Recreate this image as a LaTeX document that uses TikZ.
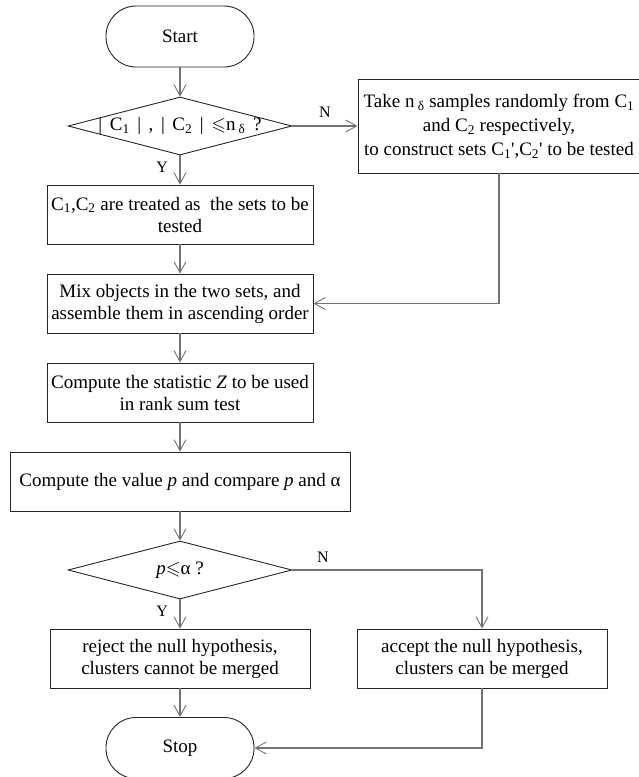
\documentclass[tikz,border=0pt]{standalone}
\usepackage{fontspec}
\setmainfont{Liberation Serif}
\usepackage{amssymb}
\usetikzlibrary{shapes.geometric,arrows.meta,positioning}
\tikzset
{
    termnode/.style = {rectangle, rounded corners=30pt, draw=black!85, line width=0.9pt, minimum width=148pt, minimum height=61pt, align=center},
    procnode/.style = {rectangle, draw=black!85, line width=0.9pt, minimum height=59pt, align=center, inner sep=2pt},
    decnode/.style  = {diamond, draw=black!85, line width=0.9pt, minimum width=224pt, minimum height=58pt, inner sep=0pt},
    flowline/.style = {draw=black!55, line width=1.4pt},
    flowarrow/.style = {flowline, -{Straight Barb[length=11pt,width=12pt,line width=0.9pt]}},
    branch/.style = {font=\fontsize{16}{18}\selectfont, text=black}
}
\newcommand\dgap{\hspace{0.4em}}

\begin{document}
\begin{tikzpicture}[x=1pt, y=-1pt, font=\fontsize{19}{22}\selectfont]
\useasboundingbox (0,0) rectangle (638,777);
% left column
\node[termnode] (start) at (180,36.5) {Start};
\node[decnode, label=center:{|\dgap C\textsubscript{1}\dgap|\dgap,\dgap|\dgap C\textsubscript{2}\dgap|\dgap$\leqslant$n\,\textsubscript{δ}\dgap?}] (check) at (180,126) {};
\node[procnode, minimum width=266pt] (direct) at (180,214.5) {C\textsubscript{1},C\textsubscript{2} are treated as\ \ the sets to be\\tested};
\node[procnode, minimum width=266pt] (mix) at (180,303.5) {Mix objects in the two sets, and\\assemble them in ascending order};
\node[procnode, minimum width=266pt] (stat) at (180,392.5) {Compute the statistic \textit{Z} to be used\\in rank sum test};
\node[procnode, minimum width=340pt] (pval) at (180,481.5) {Compute the value \textit{p} and compare \textit{p} and α};
\node[decnode, label=center:{\textit{p}$\leqslant$α ?}] (test) at (180,570) {};
\node[procnode, minimum width=260pt] (reject) at (180,658.5) {reject the null hypothesis,\\clusters cannot be merged};
\node[termnode] (stop) at (180,748) {Stop};
% right column
\node[procnode, minimum width=282pt, minimum height=94pt, font=\fontsize{19}{24}\selectfont] (sample) at (499,126) {Take n\,\textsubscript{δ} samples randomly from C\textsubscript{1}\\and C\textsubscript{2} respectively,\\to construct sets C\textsubscript{1}\textquotesingle,C\textsubscript{2}\textquotesingle{} to be tested};
\node[procnode, minimum width=250pt] (accept) at (482,658.5) {accept the null hypothesis,\\clusters can be merged};

\draw[flowarrow] (start) -- (check);
\draw[flowarrow] (check) -- node[branch, above=4pt]{N} (sample);
\draw[flowarrow] (check) -- node[branch, left=8pt, pos=0.4]{Y} (direct);
\draw[flowarrow] (direct) -- (mix);
\draw[flowarrow] (sample) |- (mix);
\draw[flowarrow] (mix) -- (stat);
\draw[flowarrow] (stat) -- (pval);
\draw[flowarrow] (pval) -- (test);
\draw[flowarrow] (test) -- node[branch, left=8pt, pos=0.4]{Y} (reject);
\draw[flowarrow] (test) -| node[branch, above=3pt, pos=0.08]{N} (accept);
\draw[flowarrow] (reject) -- (stop);
\draw[flowarrow] (accept) |- (stop);
\end{tikzpicture}
\end{document}
